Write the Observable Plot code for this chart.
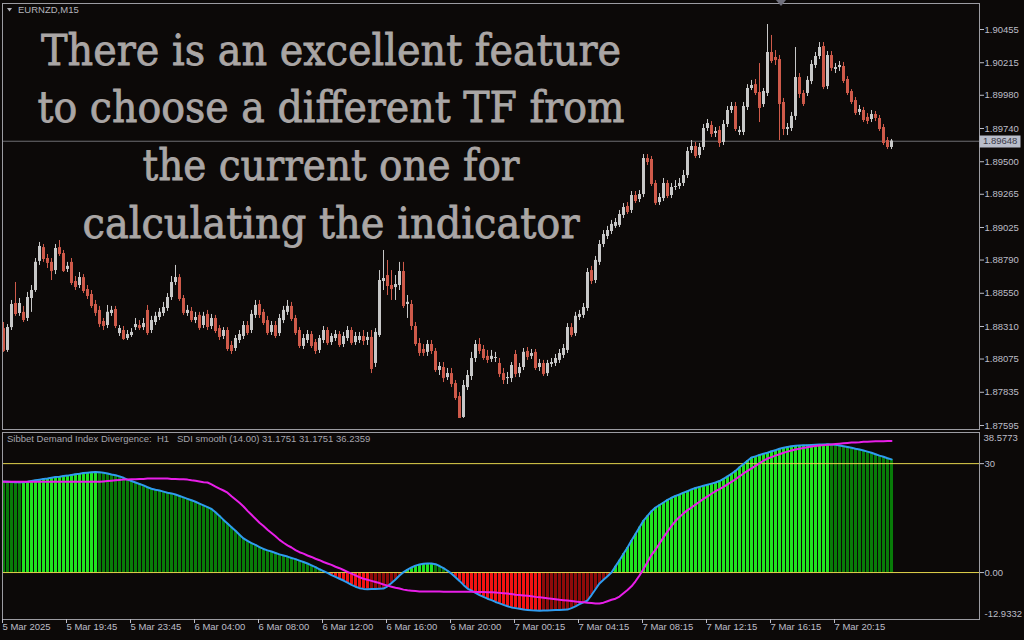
<!DOCTYPE html>
<html><head><meta charset="utf-8">
<script src="https://cdn.jsdelivr.net/npm/d3@7"></script>
<script src="https://cdn.jsdelivr.net/npm/@observablehq/plot@0.6"></script>
<style>
html,body{margin:0;padding:0;background:#0c0908;}
#wrap{position:relative;width:1024px;height:640px;background:#0c0908;overflow:hidden;}
#wrap > svg{position:absolute;left:0;}
.lbl{position:absolute;white-space:pre;font-family:"Liberation Sans",Arial,sans-serif;font-size:9.5px;line-height:12px;}
</style></head><body><div id="wrap"></div>
<script>
// ---------- DATA ----------
const symbolLabel = "EURNZD,M15";
const indicatorHeader = "Sibbet Demand Index Divergence:  H1   SDI smooth (14.00) 31.1751 31.1751 36.2359";
const overlayLines = ["There is an excellent feature", "to choose a different TF from", "the current one for", "calculating the indicator"];

const priceTicks = [1.90455,1.90215,1.89980,1.89740,1.89500,1.89265,1.89025,1.88790,1.88550,1.88310,1.88075,1.87835,1.87595];
const lastPrice = 1.89648;

const timeTickBars = [0,16,32,48,64,80,96,112,128,144,160,176,192,208];
const timeLabels = ["5 Mar 2025","5 Mar 19:45","5 Mar 23:45","6 Mar 04:00","6 Mar 08:00","6 Mar 12:00","6 Mar 16:00","6 Mar 20:00","7 Mar 00:15","7 Mar 04:15","7 Mar 08:15","7 Mar 12:15","7 Mar 16:15","7 Mar 20:15"];

const opens = [
1.88295,1.88137,1.88302,1.88476,1.88404,1.88412,1.88368,1.88512,1.88570,1.88780,
1.88880,1.88801,1.88773,1.88714,1.88880,1.88837,1.88722,1.88773,1.88635,1.88606,
1.88663,1.88577,1.88541,1.88469,1.88426,1.88346,1.88317,1.88404,1.88433,1.88259,
1.88281,1.88223,1.88245,1.88302,1.88317,1.88302,1.88426,1.88281,1.88339,1.88375,
1.88404,1.88440,1.88519,1.88628,1.88663,1.88512,1.88404,1.88419,1.88353,1.88390,
1.88317,1.88397,1.88310,1.88368,1.88295,1.88238,1.88281,1.88173,1.88151,1.88209,
1.88238,1.88317,1.88281,1.88390,1.88469,1.88412,1.88353,1.88267,1.88317,1.88259,
1.88353,1.88412,1.88455,1.88368,1.88281,1.88166,1.88209,1.88252,1.88194,1.88137,
1.88209,1.88281,1.88194,1.88223,1.88252,1.88180,1.88223,1.88281,1.88194,1.88209,
1.88238,1.88209,1.88231,1.88043,1.88245,1.88635,1.88678,1.88606,1.88591,1.88606,
1.88707,1.88469,1.88469,1.88310,1.88187,1.88144,1.88123,1.88180,1.88130,1.87992,
1.88014,1.87941,1.87970,1.87898,1.87804,1.87653,1.87869,1.87949,1.88079,1.88180,
1.88144,1.88094,1.88072,1.88079,1.88043,1.87970,1.87934,1.87934,1.88108,1.87970,
1.88014,1.88130,1.88094,1.88123,1.88014,1.88043,1.87970,1.88036,1.88043,1.88065,
1.88101,1.88137,1.88302,1.88259,1.88375,1.88390,1.88440,1.88714,1.88642,1.88773,
1.88902,1.88960,1.88996,1.89033,1.89040,1.89112,1.89177,1.89148,1.89256,1.89227,
1.89263,1.89523,1.89516,1.89343,1.89205,1.89234,1.89343,1.89256,1.89314,1.89321,
1.89343,1.89400,1.89581,1.89610,1.89545,1.89603,1.89740,1.89762,1.89704,1.89726,
1.89639,1.89769,1.89870,1.89899,1.89711,1.89711,1.89892,1.90029,1.90057,1.90000,
1.89913,1.89993,1.90289,1.90253,1.90238,1.89928,1.89733,1.89740,1.89827,1.90108,
1.89993,1.89993,1.90079,1.90195,1.90260,1.90332,1.90043,1.90267,1.90166,1.90180,
1.90188,1.90094,1.90007,1.89942,1.89856,1.89870,1.89820,1.89805,1.89841,1.89812,
1.89747,1.89653,1.89603];
const highs = [
1.88339,1.88324,1.88498,1.88628,1.88512,1.88455,1.88556,1.88606,1.88801,1.88917,
1.88902,1.88830,1.88801,1.88902,1.88931,1.88859,1.88773,1.88801,1.88671,1.88700,
1.88685,1.88606,1.88570,1.88498,1.88455,1.88368,1.88462,1.88455,1.88455,1.88317,
1.88310,1.88281,1.88295,1.88368,1.88353,1.88368,1.88462,1.88383,1.88412,1.88440,
1.88484,1.88548,1.88671,1.88751,1.88685,1.88534,1.88462,1.88447,1.88412,1.88412,
1.88412,1.88426,1.88397,1.88390,1.88317,1.88302,1.88302,1.88202,1.88245,1.88281,
1.88346,1.88346,1.88426,1.88498,1.88498,1.88433,1.88383,1.88346,1.88346,1.88397,
1.88455,1.88498,1.88484,1.88390,1.88302,1.88252,1.88281,1.88274,1.88216,1.88245,
1.88310,1.88302,1.88259,1.88281,1.88274,1.88267,1.88310,1.88302,1.88267,1.88267,
1.88281,1.88267,1.88281,1.88295,1.88714,1.88859,1.88787,1.88714,1.88678,1.88773,
1.88773,1.88534,1.88498,1.88339,1.88223,1.88180,1.88209,1.88209,1.88151,1.88050,
1.88050,1.88007,1.88007,1.87920,1.87833,1.87920,1.87992,1.88123,1.88209,1.88223,
1.88173,1.88137,1.88137,1.88123,1.88079,1.88007,1.87978,1.88050,1.88137,1.88043,
1.88151,1.88158,1.88144,1.88144,1.88072,1.88065,1.88065,1.88079,1.88108,1.88144,
1.88180,1.88331,1.88331,1.88412,1.88426,1.88476,1.88729,1.88744,1.88816,1.88931,
1.89003,1.89033,1.89076,1.89090,1.89148,1.89198,1.89205,1.89285,1.89285,1.89292,
1.89552,1.89552,1.89538,1.89364,1.89270,1.89379,1.89364,1.89343,1.89364,1.89379,
1.89437,1.89603,1.89653,1.89639,1.89632,1.89769,1.89805,1.89790,1.89747,1.89754,
1.89798,1.89899,1.89928,1.89928,1.89754,1.89928,1.90057,1.90087,1.90094,1.90209,
1.90029,1.90491,1.90412,1.90303,1.90267,1.89957,1.89776,1.89856,1.90325,1.90137,
1.90014,1.90115,1.90231,1.90289,1.90361,1.90361,1.90296,1.90296,1.90209,1.90224,
1.90217,1.90115,1.90021,1.89964,1.89906,1.89892,1.89848,1.89870,1.89863,1.89834,
1.89769,1.89675,1.89661];
const lows = [
1.88123,1.88123,1.88281,1.88383,1.88383,1.88339,1.88346,1.88412,1.88556,1.88751,
1.88773,1.88729,1.88642,1.88685,1.88816,1.88700,1.88700,1.88606,1.88570,1.88584,
1.88548,1.88505,1.88440,1.88383,1.88302,1.88281,1.88295,1.88383,1.88295,1.88238,
1.88209,1.88209,1.88231,1.88281,1.88281,1.88281,1.88245,1.88259,1.88317,1.88353,
1.88383,1.88419,1.88498,1.88606,1.88491,1.88390,1.88383,1.88339,1.88331,1.88281,
1.88295,1.88281,1.88288,1.88259,1.88209,1.88216,1.88130,1.88108,1.88130,1.88187,
1.88216,1.88245,1.88259,1.88368,1.88368,1.88317,1.88245,1.88245,1.88223,1.88238,
1.88331,1.88390,1.88346,1.88245,1.88151,1.88144,1.88187,1.88151,1.88108,1.88115,
1.88187,1.88173,1.88173,1.88202,1.88158,1.88158,1.88202,1.88173,1.88173,1.88187,
1.88173,1.88173,1.87970,1.88014,1.88231,1.88570,1.88534,1.88498,1.88498,1.88570,
1.88440,1.88368,1.88281,1.88166,1.88094,1.88094,1.88094,1.88108,1.87978,1.87956,
1.87905,1.87920,1.87869,1.87776,1.87646,1.87646,1.87848,1.87920,1.88050,1.88108,
1.88065,1.88043,1.88050,1.88050,1.87941,1.87891,1.87891,1.87905,1.87941,1.87941,
1.87992,1.88065,1.88072,1.87992,1.87985,1.87949,1.87949,1.88014,1.88021,1.88043,
1.88079,1.88115,1.88231,1.88238,1.88353,1.88368,1.88419,1.88613,1.88620,1.88751,
1.88880,1.88938,1.88974,1.89018,1.89025,1.89090,1.89119,1.89126,1.89198,1.89205,
1.89241,1.89473,1.89321,1.89184,1.89184,1.89213,1.89234,1.89234,1.89292,1.89300,
1.89321,1.89379,1.89559,1.89523,1.89523,1.89581,1.89718,1.89675,1.89675,1.89603,
1.89617,1.89747,1.89848,1.89718,1.89689,1.89689,1.89870,1.90014,1.89978,1.89783,
1.89892,1.89971,1.90209,1.90195,1.89653,1.89689,1.89689,1.89718,1.89798,1.89957,
1.89899,1.89971,1.90057,1.90173,1.90238,1.90021,1.90021,1.90152,1.90137,1.90152,
1.90065,1.89978,1.89913,1.89834,1.89834,1.89783,1.89769,1.89783,1.89790,1.89718,
1.89617,1.89588,1.89588];
const closes = [
1.88137,1.88302,1.88469,1.88404,1.88476,1.88361,1.88519,1.88570,1.88773,1.88888,
1.88801,1.88773,1.88714,1.88873,1.88837,1.88714,1.88744,1.88628,1.88599,1.88663,
1.88570,1.88534,1.88462,1.88412,1.88331,1.88317,1.88412,1.88426,1.88317,1.88295,
1.88223,1.88252,1.88267,1.88324,1.88302,1.88331,1.88267,1.88353,1.88383,1.88412,
1.88447,1.88519,1.88628,1.88663,1.88512,1.88412,1.88426,1.88361,1.88375,1.88302,
1.88383,1.88310,1.88368,1.88281,1.88238,1.88281,1.88151,1.88137,1.88223,1.88252,
1.88317,1.88267,1.88397,1.88462,1.88397,1.88339,1.88267,1.88317,1.88245,1.88368,
1.88426,1.88455,1.88368,1.88267,1.88173,1.88223,1.88252,1.88173,1.88137,1.88223,
1.88281,1.88194,1.88238,1.88252,1.88180,1.88238,1.88281,1.88194,1.88238,1.88238,
1.88209,1.88231,1.88007,1.88267,1.88642,1.88656,1.88606,1.88584,1.88613,1.88707,
1.88462,1.88484,1.88317,1.88187,1.88123,1.88123,1.88180,1.88137,1.87999,1.88021,
1.87941,1.87970,1.87898,1.87797,1.87653,1.87884,1.87956,1.88079,1.88180,1.88137,
1.88086,1.88072,1.88094,1.88086,1.87970,1.87927,1.87941,1.88028,1.87970,1.88014,
1.88123,1.88094,1.88115,1.88014,1.88043,1.87970,1.88043,1.88050,1.88079,1.88115,
1.88151,1.88302,1.88252,1.88383,1.88397,1.88447,1.88700,1.88642,1.88787,1.88902,
1.88974,1.89003,1.89047,1.89061,1.89119,1.89169,1.89141,1.89256,1.89220,1.89263,
1.89523,1.89502,1.89343,1.89205,1.89241,1.89343,1.89256,1.89314,1.89321,1.89343,
1.89400,1.89574,1.89610,1.89545,1.89603,1.89740,1.89776,1.89704,1.89718,1.89639,
1.89769,1.89870,1.89899,1.89740,1.89726,1.89899,1.90029,1.90050,1.90000,1.89892,
1.90007,1.90289,1.90231,1.90238,1.89921,1.89740,1.89747,1.89827,1.90108,1.89993,
1.89921,1.90087,1.90202,1.90260,1.90325,1.90043,1.90267,1.90180,1.90180,1.90195,
1.90087,1.90000,1.89935,1.89856,1.89877,1.89805,1.89798,1.89841,1.89820,1.89740,
1.89639,1.89610,1.89648];

// Sibbet Demand Index (histogram + blue line) and its signal (magenta)
const sdi = [
25.05,25.0,24.95,24.9,24.85,24.9,25.0,25.2,25.4,25.6,
25.8,25.9,26.1,26.3,26.4,26.6,26.7,26.9,27.1,27.2,
27.4,27.5,27.6,27.7,27.6,27.5,27.3,27.0,26.8,26.5,
26.1,25.6,25.2,24.8,24.4,24.0,23.5,23.1,22.8,22.6,
22.3,22.0,21.8,21.5,21.1,20.7,20.3,19.9,19.5,19.0,
18.5,18.0,17.5,16.6,15.6,14.5,13.5,12.5,11.5,10.4,
9.4,8.7,8.1,7.6,7.0,6.5,6.1,5.8,5.4,5.0,
4.7,4.4,4.0,3.7,3.3,2.9,2.5,2.0,1.5,0.9,
0.4,-0.1,-0.7,-1.2,-1.7,-2.2,-2.8,-3.4,-3.9,-4.3,
-4.5,-4.6,-4.55,-4.5,-4.45,-4.4,-3.8,-2.9,-1.9,-0.8,
0.1,0.8,1.4,1.9,2.2,2.4,2.5,2.5,2.3,1.8,
1.2,0.5,-0.3,-1.3,-2.3,-3.4,-4.4,-5.0,-5.6,-6.2,
-6.7,-7.2,-7.6,-8.1,-8.5,-8.9,-9.3,-9.6,-9.8,-10.0,
-10.2,-10.3,-10.4,-10.45,-10.5,-10.48,-10.45,-10.4,-10.35,-10.3,
-10.25,-10.2,-9.8,-9.3,-8.7,-8.2,-7.7,-6.2,-4.6,-3.0,
-2.0,-1.0,0.0,1.7,3.4,5.2,6.9,8.8,10.6,12.5,
14.3,15.6,16.9,17.9,18.6,19.3,20.0,20.6,21.1,21.5,
22.0,22.4,22.9,23.3,23.6,23.9,24.2,24.5,24.8,25.2,
25.8,26.5,27.2,28.0,29.0,29.9,30.8,31.7,32.0,32.4,
32.7,33.0,33.4,33.7,34.1,34.4,34.6,34.8,34.9,35.0,
35.05,35.1,35.15,35.2,35.25,35.3,35.35,35.3,35.2,35.0,
34.8,34.6,34.4,34.1,33.9,33.6,33.3,33.0,32.6,32.2,
31.9,31.5,31.1751];
const signal = [
25.0,25.0,25.0,25.0,25.0,25.0,25.0,25.0,25.0,25.0,
25.0,25.0,25.0,25.0,25.0,25.0,25.0,25.0,25.0,25.0,
25.0,25.0,25.0,25.0,25.0,25.1,25.2,25.3,25.4,25.5,
25.6,25.6,25.7,25.7,25.8,25.8,25.9,25.9,25.9,25.9,
25.9,25.9,25.8,25.8,25.7,25.7,25.6,25.4,25.3,25.1,
24.9,24.8,24.3,23.7,23.1,22.6,22.0,21.0,20.1,19.2,
18.2,17.0,15.9,14.8,13.7,12.8,11.8,10.9,10.0,9.0,
8.2,7.5,6.9,6.2,5.6,5.2,4.7,4.3,3.8,3.4,
2.9,2.5,2.1,1.6,1.2,0.7,0.2,-0.3,-0.8,-1.3,
-1.7,-2.0,-2.3,-2.6,-2.9,-3.3,-3.6,-3.9,-4.2,-4.4,
-4.7,-4.9,-5.0,-5.1,-5.2,
-5.2,-5.2,-5.25,-5.25,-5.25,-5.3,-5.3,-5.3,-5.3,-5.3,-5.3,-5.3,-5.3,-5.35,-5.35,-5.35,-5.4,-5.4,-5.5,-5.6,-5.7,
-5.8,-5.9,-6.1,-6.2,-6.3,-6.4,-6.55,-6.7,-6.8,-6.95,
-7.1,-7.2,-7.35,-7.5,-7.6,-7.7,-7.85,-8.0,-8.1,-8.2,
-8.3,-8.4,-8.5,-8.5,-8.3,-7.9,-7.5,-7.2,-6.6,-5.7,
-4.8,-3.8,-2.4,-0.8,1.0,2.9,4.8,6.3,8.0,9.7,
11.3,12.8,14.2,15.3,16.3,17.2,17.9,18.7,19.5,20.3,
21.0,21.7,22.4,23.0,23.6,24.3,25.0,25.7,26.5,27.3,
28.0,28.7,29.4,30.1,30.8,31.4,31.8,32.2,32.6,33.0,
33.3,33.6,33.9,34.1,34.3,34.5,34.7,34.85,35.0,35.1,
35.2,35.3,35.4,35.5,35.6,35.7,35.8,35.85,35.9,36.0,
36.05,36.1,36.15,36.2,36.2,36.22,36.2359];
const sdiLevels = [30, 0];
const sdiMin = -12.9332, sdiMax = 38.5773;

// ---------- STYLE ----------
const FONT = "'Liberation Sans', Arial, sans-serif";
const axisColor = "#bdbdc7";
const frameColor = "#9c9ca2";
const bull = "#c8c8c8", bear = "#cf5a4a";
const histColors = {g: "#1fe41f", dg: "#087c08", r: "#f21212", dr: "#8e0a0a"};

// ---------- BUILD ----------
const wrap = document.getElementById("wrap");
const xDomain = [-0.25, 244];
const candles = closes.map((c, i) => ({i, o: opens[i], h: highs[i], l: lows[i], c}));
const ups = candles.filter(d => d.c >= d.o), downs = candles.filter(d => d.c < d.o);
const baseStyle = {background: "transparent", color: axisColor, fontFamily: FONT, fontSize: "9.5px", overflow: "visible"};

const main = Plot.plot({
  width: 1024, height: 430,
  marginLeft: 2, marginRight: 45, marginTop: 3, marginBottom: 1,
  style: baseStyle,
  x: {domain: xDomain, axis: null},
  y: {domain: [1.8756611, 1.9064278], axis: null},
  marks: [
    Plot.ruleY([lastPrice], {stroke: "#6e6e72"}),
    Plot.ruleX(downs, {x: "i", y1: "l", y2: "h", stroke: bear}),
    Plot.ruleX(ups, {x: "i", y1: "l", y2: "h", stroke: bull}),
    Plot.ruleX(downs, {x: "i", y1: "o", y2: "c", stroke: bear, strokeWidth: 3}),
    Plot.ruleX(ups, {x: "i", y1: "o", y2: "c", stroke: bull, strokeWidth: 3}),
    Plot.link(downs, {x1: d => d.i - 0.375, x2: d => d.i + 0.375, y1: "c", y2: "c", stroke: bear}),
    Plot.link(ups, {x1: d => d.i - 0.375, x2: d => d.i + 0.375, y1: "c", y2: "c", stroke: bull}),
    Plot.frame({stroke: frameColor}),
    Plot.axisY(priceTicks, {anchor: "right", label: null, tickSize: 4, tickPadding: 1, tickFormat: d => d.toFixed(5)})
  ]
});
main.style.top = "0px";
wrap.appendChild(main);

// current price tag
{
  const yy = Math.round(main.scale("y").apply(lastPrice));
  const svg = d3.select(main);
  svg.append("rect").attr("x", 979.5).attr("y", yy - 5.5).attr("width", 41).attr("height", 12).attr("fill", "#b9bdca");
  svg.append("text").attr("x", 983).attr("y", yy + 0.5).attr("dominant-baseline", "middle").attr("text-anchor", "start")
    .attr("fill", "#3a3a48").attr("font-family", FONT).attr("font-size", "9.5px").text(lastPrice.toFixed(5));
}

const bars = sdi.map((v, i) => {
  const rising = i > 0 && v >= sdi[i - 1];
  const cls = v >= 0 ? (rising ? "g" : "dg") : (i > 0 && v <= sdi[i - 1] ? "r" : "dr");
  return {i, v, s: signal[i], cls};
});

const ind = Plot.plot({
  width: 1024, height: 210,
  marginLeft: 2, marginRight: 45, marginTop: 2, marginBottom: 21,
  style: baseStyle,
  x: {domain: xDomain, axis: null},
  y: {domain: [sdiMin, sdiMax], axis: null},
  color: {domain: Object.keys(histColors), range: Object.values(histColors)},
  marks: [
    Plot.ruleX(bars, {x: "i", y1: 0, y2: "v", stroke: "cls", strokeWidth: 3}),
    Plot.ruleY(sdiLevels, {stroke: "#e4d44c"}),
    Plot.line(bars, {x: "i", y: "v", stroke: "#2f9cf0", strokeWidth: 2}),
    Plot.line(bars, {x: "i", y: "s", stroke: "#e81ee8", strokeWidth: 2}),
    Plot.frame({stroke: frameColor}),
    Plot.axisY(sdiLevels, {anchor: "right", label: null, tickSize: 4, tickPadding: 1, tickFormat: d => d === 0 ? "0.00" : String(d)}),
    Plot.text([sdiMax], {frameAnchor: "right", y: d => d, text: d => String(d), textAnchor: "start", dx: 4, dy: 5, fill: axisColor}),
    Plot.text([sdiMin], {frameAnchor: "right", y: d => d, text: d => String(d), textAnchor: "start", dx: 5, dy: -6, fill: axisColor}),
    Plot.axisX(timeTickBars, {anchor: "bottom", label: null, tickSize: 4, tickPadding: 0, textAnchor: "start", dx: -1,
      tickFormat: d => timeLabels[timeTickBars.indexOf(d)]})
  ]
});
ind.style.top = "430px";
wrap.appendChild(ind);

// ---------- TEXT OVERLAYS ----------
const sym = document.createElement("div");
sym.className = "lbl"; sym.style.left = "18px"; sym.style.top = "4px"; sym.style.color = "#b4b4bc";
sym.textContent = symbolLabel; wrap.appendChild(sym);

const hdr = document.createElement("div");
hdr.className = "lbl"; hdr.style.left = "7px"; hdr.style.top = "433px"; hdr.style.color = "#a4a4ac";
hdr.textContent = indicatorHeader; wrap.appendChild(hdr);

const ns = "http://www.w3.org/2000/svg";
const ov = document.createElementNS(ns, "svg");
ov.setAttribute("width", 1024); ov.setAttribute("height", 640);
ov.style.position = "absolute"; ov.style.left = "0"; ov.style.top = "0"; ov.style.pointerEvents = "none";
const tri = document.createElementNS(ns, "path");
tri.setAttribute("d", "M7,8 L12,8 L9.5,11.5 Z"); tri.setAttribute("fill", "#b4b4bc"); ov.appendChild(tri);
const shift = document.createElementNS(ns, "path");
shift.setAttribute("d", "M776,0 L786,0 L781,6 Z"); shift.setAttribute("fill", "#70707c"); ov.appendChild(shift);
const lineBase = [65, 122, 180, 238];
const lineWidths = [580, 587, 377, 497];
overlayLines.forEach((t, k) => {
  const el = document.createElementNS(ns, "text");
  el.setAttribute("x", 331); el.setAttribute("y", lineBase[k]);
  el.setAttribute("text-anchor", "middle");
  el.setAttribute("font-family", "'DejaVu Serif', serif");
  el.setAttribute("font-size", "43");
  el.setAttribute("fill", "#aaa6a5");
  el.setAttribute("stroke", "#aaa6a5");
  el.setAttribute("stroke-width", "0.8");
  el.setAttribute("textLength", lineWidths[k]);
  el.setAttribute("lengthAdjust", "spacingAndGlyphs");
  el.textContent = t;
  ov.appendChild(el);
});
wrap.appendChild(ov);
</script>
</body></html>
